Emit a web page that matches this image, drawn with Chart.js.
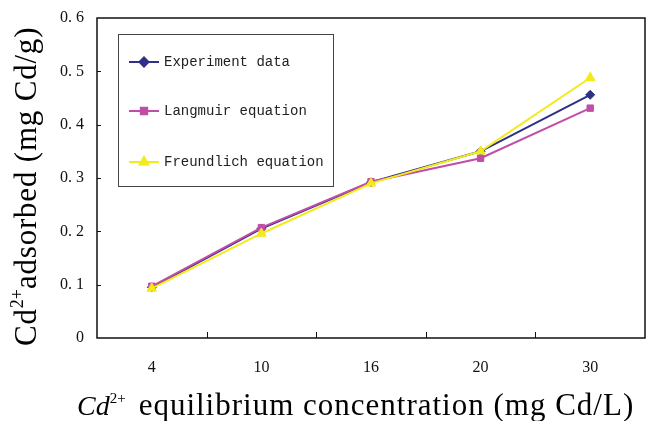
<!DOCTYPE html>
<html>
<head>
<meta charset="utf-8">
<script src="https://cdn.jsdelivr.net/npm/chart.js@4"></script>
<style>
  body { margin: 0; background: #fff; }
  #wrap { width: 646px; height: 421px; }
</style>
</head>
<body>
<div id="wrap"><canvas id="chart" width="646" height="421"></canvas></div>
<script>
let concentrations = ["4", "10", "16", "20", "30"];
let experiment = [0.095, 0.205, 0.292, 0.350, 0.456];
let langmuir = [0.097, 0.207, 0.293, 0.337, 0.431];
let freundlich = [0.093, 0.196, 0.290, 0.350, 0.488];

const serif = "'Liberation Serif', 'Times New Roman', serif";
const mono = "'Liberation Mono', 'DejaVu Sans Mono', monospace";

// colours of the three series
const navy = "#2f2f86";
const pink = "#c04ea8";
const yellow = "#f2ea1a";

let legendItems = [
    { text: "Experiment data", color: navy, style: "rectRot", radius: 4.5 },
    { text: "Langmuir equation", color: pink, style: "rect", radius: 4.5 },
    { text: "Freundlich equation", color: yellow, style: "triangle", radius: 5 }
];

// write text pieces one after another, some as superscript
function drawPieces(ctx, pieces, x, y) {
    pieces.forEach(p => {
        ctx.font = p.font;
        ctx.letterSpacing = (p.spacing || 0) + "px";
        ctx.fillText(p.text, x, y + (p.dy || 0));
        x += ctx.measureText(p.text).width + (p.gap || 0);
    });
    ctx.letterSpacing = "0px";
}

const decorations = {
    id: "decorations",
    afterDraw(c) {
        let ctx = c.ctx;
        let a = c.chartArea;
        let xs = c.scales.x;
        let ys = c.scales.y;
        ctx.save();

        // frame
        ctx.strokeStyle = "#111";
        ctx.lineWidth = 1.5;
        ctx.strokeRect(a.left, a.top, a.right - a.left, a.bottom - a.top);

        // inward ticks on y
        ctx.lineWidth = 1;
        for (let v = 0.1; v < 0.6; v += 0.1) {
            let py = Math.round(ys.getPixelForValue(v)) + 0.5;
            ctx.beginPath();
            ctx.moveTo(a.left, py);
            ctx.lineTo(a.left + 4, py);
            ctx.stroke();
        }
        // inward ticks on x, between categories
        for (let i = 0; i < concentrations.length - 1; i++) {
            let px = Math.round((xs.getPixelForTick(i) + xs.getPixelForTick(i + 1)) / 2) + 0.5;
            ctx.beginPath();
            ctx.moveTo(px, a.bottom);
            ctx.lineTo(px, a.bottom - 6);
            ctx.stroke();
        }

        // legend box
        ctx.fillStyle = "#fff";
        ctx.fillRect(118, 34, 215, 152);
        ctx.strokeStyle = "#444";
        ctx.lineWidth = 1;
        ctx.strokeRect(118.5, 34.5, 215, 152);
        let rows = [62, 111, 162];
        legendItems.forEach((it, i) => {
            let y = rows[i];
            ctx.strokeStyle = it.color;
            ctx.lineWidth = 2;
            ctx.beginPath();
            ctx.moveTo(129, y);
            ctx.lineTo(159, y);
            ctx.stroke();
            ctx.fillStyle = it.color;
            Chart.helpers.drawPoint(ctx, { pointStyle: it.style, radius: it.radius, rotation: 0, borderWidth: 1 }, 144, y);
            ctx.fillStyle = "#222";
            ctx.font = "14px " + mono;
            ctx.textBaseline = "middle";
            ctx.textAlign = "left";
            ctx.fillText(it.text, 164, y);
        });

        // axis titles
        ctx.fillStyle = "#000";
        ctx.textBaseline = "alphabetic";
        ctx.textAlign = "left";
        drawPieces(ctx, [
            { text: "Cd", font: "italic 28px " + serif },
            { text: "2+", font: "15px " + serif, dy: -12, gap: 13 },
            { text: "equilibrium concentration (mg Cd/L)", font: "31px " + serif, spacing: 1 }
        ], 77, 415);

        ctx.translate(36, 346);
        ctx.rotate(-Math.PI / 2);
        drawPieces(ctx, [
            { text: "Cd", font: "31px " + serif, spacing: 0.8 },
            { text: "2+", font: "18px " + serif, dy: -13 },
            { text: "adsorbed (mg Cd/g)", font: "31px " + serif, spacing: 0.8 }
        ], 0, 0);
        ctx.restore();
    }
};

function series(label, values, color, style, radius, order) {
    return {
        label: label,
        data: values,
        borderColor: color,
        backgroundColor: color,
        borderWidth: 2,
        pointStyle: style,
        pointRadius: radius,
        pointBorderWidth: 1,
        order: order
    };
}

new Chart(document.getElementById("chart"), {
    type: "line",
    data: {
        labels: concentrations,
        datasets: [
            series("Experiment data", experiment, navy, "rectRot", 4.5, 2),
            series("Langmuir equation", langmuir, pink, "rect", 4.5, 1),
            series("Freundlich equation", freundlich, yellow, "triangle", 5.5, 0)
        ]
    },
    options: {
        responsive: false,
        animation: false,
        layout: { autoPadding: false, padding: { top: 18, right: 1, left: 0, bottom: 0 } },
        plugins: { legend: { display: false }, tooltip: { enabled: false } },
        scales: {
            x: {
                offset: true,
                grid: { display: false, drawTicks: false },
                border: { display: false },
                ticks: { color: "#111", font: { family: serif, size: 16 }, padding: 20 },
                afterFit: s => { s.height = 83; s.paddingLeft = 0; s.paddingRight = 0; }
            },
            y: {
                min: 0,
                max: 0.6,
                grid: { display: false, drawTicks: false },
                border: { display: false },
                ticks: {
                    stepSize: 0.1,
                    color: "#111",
                    font: { family: serif, size: 16 },
                    padding: 13,
                    callback: v => v === 0 ? "0" : v.toFixed(1).replace(".", ". ")
                },
                afterFit: s => { s.width = 97; s.paddingTop = 0; s.paddingBottom = 0; }
            }
        }
    },
    plugins: [decorations]
});
</script>
</body>
</html>
